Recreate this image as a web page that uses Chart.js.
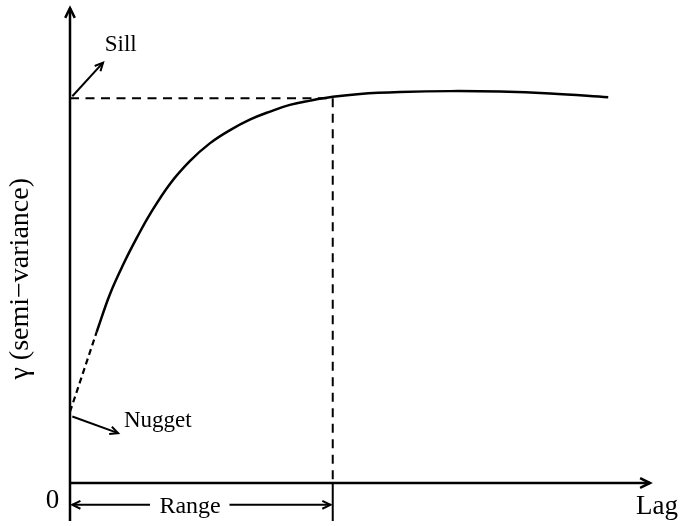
<!DOCTYPE html>
<html><head><meta charset="utf-8">
<script src="https://cdn.jsdelivr.net/npm/chart.js@4"></script>
<style>html,body{margin:0;padding:0;background:#fff}#c{display:block}</style>
</head><body>
<canvas id="c" width="685" height="526"></canvas>
<script>
// Semivariogram curve (lag, gamma)
const curveLag   = [0.46, 0.69, 0.93, 1.16, 1.38, 1.72, 2.07, 2.41, 2.76, 3.10, 3.45, 3.79, 4.14, 4.53, 5.00, 5.69, 6.55, 7.41, 8.28, 9.28];
const curveGamma = [3.18, 3.98, 4.63, 5.18, 5.66, 6.29, 6.78, 7.15, 7.43, 7.65, 7.82, 7.96, 8.05, 8.13, 8.19, 8.23, 8.25, 8.24, 8.20, 8.12];
// Extrapolated (dashed) part towards nugget
const nuggetLag   = [0, 0.46];
const nuggetGamma = [1.5, 3.18];
const sill = 8.1;
const range = 4.53;
const axisMaxLag = 10;
const axisMaxGamma = 10;
const labels = {sill:'Sill', nugget:'Nugget', range:'Range', zero:'0', lag:'Lag', y:'γ (semi−variance)'};

const pts = (xs, ys) => xs.map((x, i) => ({x, y: ys[i]}));
const FONT = '"Liberation Serif", "Times New Roman", serif';

function arrowHead(ctx, x1, y1, x2, y2, size) {
  const a = Math.atan2(y2 - y1, x2 - x1);
  ctx.beginPath();
  ctx.moveTo(x2 - size * Math.cos(a - 0.45), y2 - size * Math.sin(a - 0.45));
  ctx.lineTo(x2, y2);
  ctx.lineTo(x2 - size * Math.cos(a + 0.45), y2 - size * Math.sin(a + 0.45));
  ctx.stroke();
}
function arrow(ctx, x1, y1, x2, y2, size) {
  ctx.beginPath(); ctx.moveTo(x1, y1); ctx.lineTo(x2, y2); ctx.stroke();
  arrowHead(ctx, x1, y1, x2, y2, size);
}

const decor = {
  id: 'decor',
  afterDatasetsDraw(chart) {
    const {ctx, scales: {x, y}} = chart;
    const X = v => x.getPixelForValue(v), Y = v => y.getPixelForValue(v);
    ctx.save();
    ctx.strokeStyle = '#000'; ctx.fillStyle = '#000';
    ctx.lineWidth = 2.5; ctx.lineCap = 'butt'; ctx.lineJoin = 'miter';
    // y axis
    ctx.beginPath(); ctx.moveTo(X(0), Y(-0.8)); ctx.lineTo(X(0), Y(axisMaxGamma)); ctx.stroke();
    arrowHead(ctx, X(0), Y(0), X(0), Y(axisMaxGamma), 11);
    // x axis
    ctx.beginPath(); ctx.moveTo(X(0), Y(0)); ctx.lineTo(X(axisMaxLag), Y(0)); ctx.stroke();
    arrowHead(ctx, X(0), Y(0), X(axisMaxLag), Y(0), 11);
    // range tick below axis
    ctx.lineWidth = 2;
    ctx.beginPath(); ctx.moveTo(X(range), Y(0)); ctx.lineTo(X(range), Y(-0.8)); ctx.stroke();
    // range double arrow
    const ry = Y(-0.46);
    arrow(ctx, X(1.38), ry, X(0.04), ry, 9);
    arrow(ctx, X(2.75), ry, X(range - 0.04), ry, 9);
    // sill arrow
    arrow(ctx, X(0.04), Y(sill) - 2, X(0.57), Y(8.85), 9);
    // nugget arrow
    arrow(ctx, X(0.04), Y(1.4), X(0.83), Y(1.05), 9);
    // texts
    ctx.textBaseline = 'middle';
    ctx.textAlign = 'left';
    ctx.font = '23px ' + FONT;
    ctx.fillText(labels.sill, X(0.6), Y(9.22));
    ctx.fillText(labels.nugget, X(0.93), Y(1.3));
    ctx.textAlign = 'center';
    ctx.font = '24px ' + FONT;
    ctx.fillText(labels.range, X(2.07), ry + 2);
    ctx.font = '27px ' + FONT;
    ctx.fillText(labels.zero, X(-0.3), Y(-0.38));
    ctx.fillText(labels.lag, X(10.12), Y(-0.5));
    // y title
    ctx.save();
    ctx.translate(21, Y(4.3));
    ctx.rotate(-Math.PI / 2);
    ctx.font = '28px ' + FONT;
    ctx.fillText(labels.y, 0, 0);
    ctx.restore();
    ctx.restore();
  }
};

new Chart(document.getElementById('c'), {
  type: 'scatter',
  data: {
    datasets: [
      { data: pts(curveLag, curveGamma), showLine: true, borderColor: '#000', borderWidth: 2.5,
        pointRadius: 0, tension: 0.4, fill: false },
      { data: pts(nuggetLag, nuggetGamma), showLine: true, borderColor: '#000', borderWidth: 2.2,
        borderDash: [6, 4], pointRadius: 0, fill: false },
      { data: [{x: 0, y: sill}, {x: range, y: sill}], showLine: true, borderColor: '#000', borderWidth: 2,
        borderDash: [9, 6.5], pointRadius: 0 },
      { data: [{x: range, y: sill}, {x: range, y: 0}], showLine: true, borderColor: '#000', borderWidth: 2,
        borderDash: [9, 6.5], pointRadius: 0 }
    ]
  },
  options: {
    responsive: false, animation: false, devicePixelRatio: 1,
    layout: { padding: { left: 70, right: 35, top: 8, bottom: 5 } },
    plugins: { legend: { display: false }, tooltip: { enabled: false } },
    scales: {
      x: { type: 'linear', min: 0, max: axisMaxLag, display: false },
      y: { type: 'linear', min: -0.8, max: axisMaxGamma, display: false }
    }
  },
  plugins: [decor]
});
</script>
</body></html>
